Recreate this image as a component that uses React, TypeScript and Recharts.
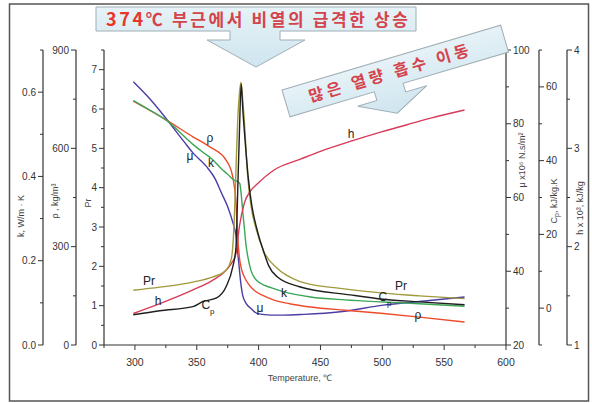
import React from 'react';
import { LineChart, Line, XAxis, YAxis } from 'recharts';

// ---------- data ----------
const muT = [298.7, 310, 325.5, 340, 346.9, 357.6, 365, 369.7, 375, 379.1, 381.7, 383, 384.4, 385.7, 387.1, 390, 393.8, 399.1, 410, 420, 436.6, 466.1, 500.9, 530, 566.5];
const muValues = [91.4, 87.5, 81.3, 75, 72.1, 68.5, 65, 61.4, 57.5, 53.3, 49.7, 45.5, 40.7, 36.5, 33.5, 31.2, 29.9, 28.5, 28.1, 28.1, 28.3, 29.0, 30.8, 31.8, 33.0];

const rhoT = [298.7, 310, 325.5, 346.9, 360.3, 373.7, 379.1, 381.7, 383.1, 384.4, 386, 388.4, 392, 396.4, 403, 412.5, 425, 442, 470, 500.9, 530, 566.5];
const rhoValues = [744, 720, 686, 635, 605, 564, 513, 432, 330, 269, 234, 208, 185, 167, 152, 137, 126, 116, 106, 96, 85, 70];

const kT = [298.7, 310, 325.5, 346.9, 356, 361.6, 369.7, 375, 380.3, 383, 384.8, 386, 387.1, 388.5, 389.7, 391.5, 393.8, 397, 401.8, 410, 420.5, 442, 470, 500.9, 530, 566.5];
const kValues = [0.58, 0.561, 0.533, 0.476, 0.455, 0.443, 0.419, 0.405, 0.391, 0.388, 0.383, 0.355, 0.319, 0.277, 0.24, 0.206, 0.177, 0.158, 0.146, 0.136, 0.126, 0.114, 0.107, 0.102, 0.098, 0.092];

const prT = [298.7, 320, 346.9, 363, 373.7, 378, 380.3, 381.7, 383.1, 384.5, 385.7, 387, 388.4, 391.1, 393.8, 397.8, 404.5, 415, 433, 442, 466, 500.9, 530, 566.5];
const prValues = [1.39, 1.47, 1.6, 1.73, 1.9, 2.2, 3.17, 4.45, 5.72, 6.4, 6.68, 6.3, 5.72, 4.32, 3.55, 2.97, 2.36, 1.95, 1.62, 1.54, 1.44, 1.32, 1.25, 1.18];

const cpT = [298.7, 320, 346.9, 355, 365.6, 373.7, 379.1, 381.7, 383.1, 384.5, 385.9, 387.3, 388.8, 391.5, 394.5, 398.5, 404.5, 408, 415, 433, 474, 500.9, 530, 566.5];
const cpValues = [-1.8, -0.7, 0.4, 1.8, 2.7, 5.8, 11.2, 16.5, 31.8, 47.9, 60.8, 53.3, 46.6, 35.8, 27.8, 21.6, 14.9, 11.6, 8.5, 5.8, 3.6, 2.4, 1.7, 0.9];

const hT = [298.7, 320.1, 346.9, 363, 373.7, 378, 381.7, 384.4, 388.4, 393, 399.1, 412.5, 433.9, 450, 474, 500, 520, 540, 566.5];
const hValues = [1.32, 1.42, 1.56, 1.66, 1.76, 1.83, 1.93, 2.2, 2.44, 2.56, 2.64, 2.78, 2.89, 2.97, 3.07, 3.17, 3.24, 3.31, 3.39];

const xTicks = [275, 300, 325, 350, 375, 400, 425, 450, 475, 500, 525, 550, 575, 600];
const kTicks = [0, 0.1, 0.2, 0.3, 0.4, 0.5, 0.6, 0.7];
const rhoTicks = [0, 150, 300, 450, 600, 750, 900];
const prTicks = [0, 0.5, 1, 1.5, 2, 2.5, 3, 3.5, 4, 4.5, 5, 5.5, 6, 6.5, 7, 7.5];
const muTicks = [20, 30, 40, 50, 60, 70, 80, 90, 100];
const cpTicks = [-10, 0, 10, 20, 30, 40, 50, 60, 70];
const hTicks = [1, 1.5, 2, 2.5, 3, 3.5, 4];

// axis ids are prefixed so that they stack inner -> outer in this order
const series = [
  { key: 'mu', T: muT, v: muValues, axis: 'a_mu', color: '#4b3ca6' },
  { key: 'rho', T: rhoT, v: rhoValues, axis: 'b_rho', color: '#ee4b2b' },
  { key: 'k', T: kT, v: kValues, axis: 'c_k', color: '#3aa656' },
  { key: 'h', T: hT, v: hValues, axis: 'c_h', color: '#d83a5a' },
  { key: 'pr', T: prT, v: prValues, axis: 'a_pr', color: '#a09a3c' },
  { key: 'cp', T: cpT, v: cpValues, axis: 'b_cp', color: '#1f1f1f' },
];

const allT = Array.from(new Set(series.flatMap((s) => s.T))).sort((a, b) => a - b);
const rows = allT.map((T) => {
  const r: Record<string, number> = { T };
  series.forEach((s) => {
    const i = s.T.indexOf(T);
    if (i >= 0) r[s.key] = s.v[i];
  });
  return r;
});

// ---------- styling helpers ----------
const FONT = "'Liberation Sans', Arial, sans-serif";
const AX = '#333';

const near = (a: number, b: number) => Math.abs(a - b) < 1e-6;

function yTick(side: 'left' | 'right', isMajor: (v: number) => boolean, fmt: (v: number) => string) {
  return (props: any) => {
    const { x, y, payload } = props;
    const v = payload.value as number;
    const major = isMajor(v);
    const len = major ? 5 : 3;
    const dir = side === 'left' ? -1 : 1;
    return (
      <g>
        <line x1={x} y1={y} x2={x + dir * len} y2={y} stroke={AX} strokeWidth={1} />
        {major && (
          <text
            x={x + dir * (len + 2)}
            y={y}
            dy="0.35em"
            textAnchor={side === 'left' ? 'end' : 'start'}
            fontFamily={FONT}
            fontSize={10}
            fill={AX}
          >
            {fmt(v)}
          </text>
        )}
      </g>
    );
  };
}

const xTick = (props: any) => {
  const { x, y, payload } = props;
  const v = payload.value as number;
  const major = v % 50 === 0;
  const len = major ? 5 : 3;
  return (
    <g>
      <line x1={x} y1={y} x2={x} y2={y + len} stroke={AX} strokeWidth={1} />
      {major && (
        <text x={x} y={y + 21} textAnchor="middle" fontFamily={FONT} fontSize={10.5} fill={AX}>
          {v}
        </text>
      )}
    </g>
  );
};

const axisCommon = {
  tickLine: false,
  tickSize: 0,
  tickMargin: 0,
  interval: 0 as const,
  allowDataOverflow: true,
  axisLine: { stroke: AX, strokeWidth: 1.2 },
};

const titleStyle = { fontFamily: FONT, fontSize: 9, fill: '#444' };
const curveLabel = { fontFamily: FONT, fontSize: 12, fill: '#222' };

function RotTitle({ x, y, children }: { x: number; y: number; children: React.ReactNode }) {
  return (
    <text x={x} y={y} transform={`rotate(-90 ${x} ${y})`} textAnchor="middle" dy="0.35em" {...titleStyle}>
      {children}
    </text>
  );
}

function CLabel({ x, y, children }: { x: number; y: number; children: React.ReactNode }) {
  return (
    <text x={x} y={y} textAnchor="middle" dy="0.35em" {...curveLabel}>
      {children}
    </text>
  );
}

export default function App() {
  return (
    <div style={{ position: 'absolute', left: 0, top: 0, width: 592, height: 403, background: '#fff' }}>
      <LineChart width={592} height={403} data={rows} margin={{ top: 50, right: 5, bottom: 18, left: 5 }}>
        <XAxis
          dataKey="T"
          type="number"
          domain={[275, 600]}
          ticks={xTicks}
          height={40}
          tick={xTick}
          {...axisCommon}
        />
        <YAxis
          yAxisId="a_pr"
          orientation="left"
          width={28}
          domain={[0, 7.5]}
          ticks={prTicks}
          tick={yTick('left', (v) => Number.isInteger(v), (v) => String(v))}
          {...axisCommon}
        />
        <YAxis
          yAxisId="b_rho"
          orientation="left"
          width={33}
          domain={[0, 900]}
          ticks={rhoTicks}
          tick={yTick('left', (v) => v % 300 === 0, (v) => String(v))}
          {...axisCommon}
        />
        <YAxis
          yAxisId="c_k"
          orientation="left"
          width={38}
          domain={[0, 0.7]}
          ticks={kTicks}
          tick={yTick('left', (v) => [0, 0.2, 0.4, 0.6].some((m) => near(m, v)), (v) => v.toFixed(1))}
          {...axisCommon}
        />
        <YAxis
          yAxisId="a_mu"
          orientation="right"
          width={33}
          domain={[20, 100]}
          ticks={muTicks}
          tick={yTick('right', (v) => v % 20 === 0, (v) => String(v))}
          {...axisCommon}
        />
        <YAxis
          yAxisId="b_cp"
          orientation="right"
          width={28}
          domain={[-10, 70]}
          ticks={cpTicks}
          tick={yTick('right', (v) => v % 20 === 0, (v) => String(v))}
          {...axisCommon}
        />
        <YAxis
          yAxisId="c_h"
          orientation="right"
          width={20}
          domain={[1, 4]}
          ticks={hTicks}
          tick={yTick('right', (v) => Number.isInteger(v), (v) => String(v))}
          {...axisCommon}
        />
        {series.map((s) => (
          <Line
            key={s.key}
            yAxisId={s.axis}
            dataKey={s.key}
            type="monotone"
            stroke={s.color}
            strokeWidth={1.4}
            dot={false}
            connectNulls
            isAnimationActive={false}
          />
        ))}
      </LineChart>

      <svg
        width={592}
        height={403}
        style={{ position: 'absolute', left: 0, top: 0, pointerEvents: 'none' }}
      >
        <defs>
          <linearGradient id="callFill" x1="0" y1="0" x2="0" y2="1">
            <stop offset="0" stopColor="#e6f2f7" />
            <stop offset="1" stopColor="#cfe5ef" />
          </linearGradient>
        </defs>
        {/* outer frame */}
        <rect x={9.5} y={4} width={579} height={397} fill="none" stroke="#555" strokeWidth={1.5} />

        {/* axis titles */}
        <RotTitle x={21} y={216}>k, W/m · K</RotTitle>
        <RotTitle x={55} y={201}>ρ , kg/m³</RotTitle>
        <RotTitle x={88} y={203}>Pr</RotTitle>
        <RotTitle x={522} y={160}>μ x10⁶ N.s/m²</RotTitle>
        <RotTitle x={554} y={201}>
          C<tspan fontSize={7} dy={2}>p</tspan>
          <tspan dy={-2}>, kJ/kg.K</tspan>
        </RotTitle>
        <RotTitle x={580} y={208}>h x 10³, kJ/kg</RotTitle>
        <text x={300} y={378} textAnchor="middle" dy="0.35em" {...titleStyle}>
          Temperature, ℃
        </text>

        {/* curve labels */}
        <CLabel x={210} y={138}>ρ</CLabel>
        <CLabel x={190} y={156}>μ</CLabel>
        <CLabel x={211} y={163}>k</CLabel>
        <CLabel x={149} y={281}>Pr</CLabel>
        <CLabel x={158} y={301}>h</CLabel>
        <text x={208} y={305} textAnchor="middle" dy="0.35em" {...curveLabel}>
          C<tspan fontSize={8} dy={5}>p</tspan>
        </text>
        <CLabel x={260} y={308}>μ</CLabel>
        <CLabel x={284} y={293}>k</CLabel>
        <CLabel x={351} y={134}>h</CLabel>
        <CLabel x={401} y={286}>Pr</CLabel>
        <text x={385} y={297} textAnchor="middle" dy="0.35em" {...curveLabel}>
          C<tspan fontSize={8} dy={5}>p</tspan>
        </text>
        <CLabel x={418} y={315}>ρ</CLabel>

        {/* top callout */}
        <path
          d="M96,7 L416,7 L416,31 L280,31 L280,40 L305,40 L256,67 L207,40 L230,40 L230,31 L96,31 Z"
          fill="url(#callFill)"
          stroke="#a0aeb5"
          strokeWidth={1}
        />
        <text
          x={106}
          y={26}
          textLength={302}
          lengthAdjust="spacing"
          fontFamily="'Noto Sans CJK KR', sans-serif"
          fontWeight="bold"
          fontSize={17}
          fill="#d4434c"
        >
          <tspan fill="#e8362a" fontSize={18}>374</tspan>℃ 부근에서 비열의 급격한 상승
        </text>

        {/* rotated callout */}
        <g transform="translate(282,90) rotate(-16.5)">
          <path
            d="M0,0 L228,0 L228,28 L118,28 L118,37 L140,37 L104,55 L68,37 L88,37 L88,28 L0,28 Z"
            fill="url(#callFill)"
            stroke="#a0aeb5"
            strokeWidth={1}
          />
          <text
            x={24}
            y={20}
            textLength={166}
            lengthAdjust="spacing"
            fontFamily="'Noto Sans CJK KR', sans-serif"
            fontWeight="bold"
            fontSize={16}
            fill="#d4434c"
          >
            많은 열량 흡수 이동
          </text>
        </g>
      </svg>
    </div>
  );
}
